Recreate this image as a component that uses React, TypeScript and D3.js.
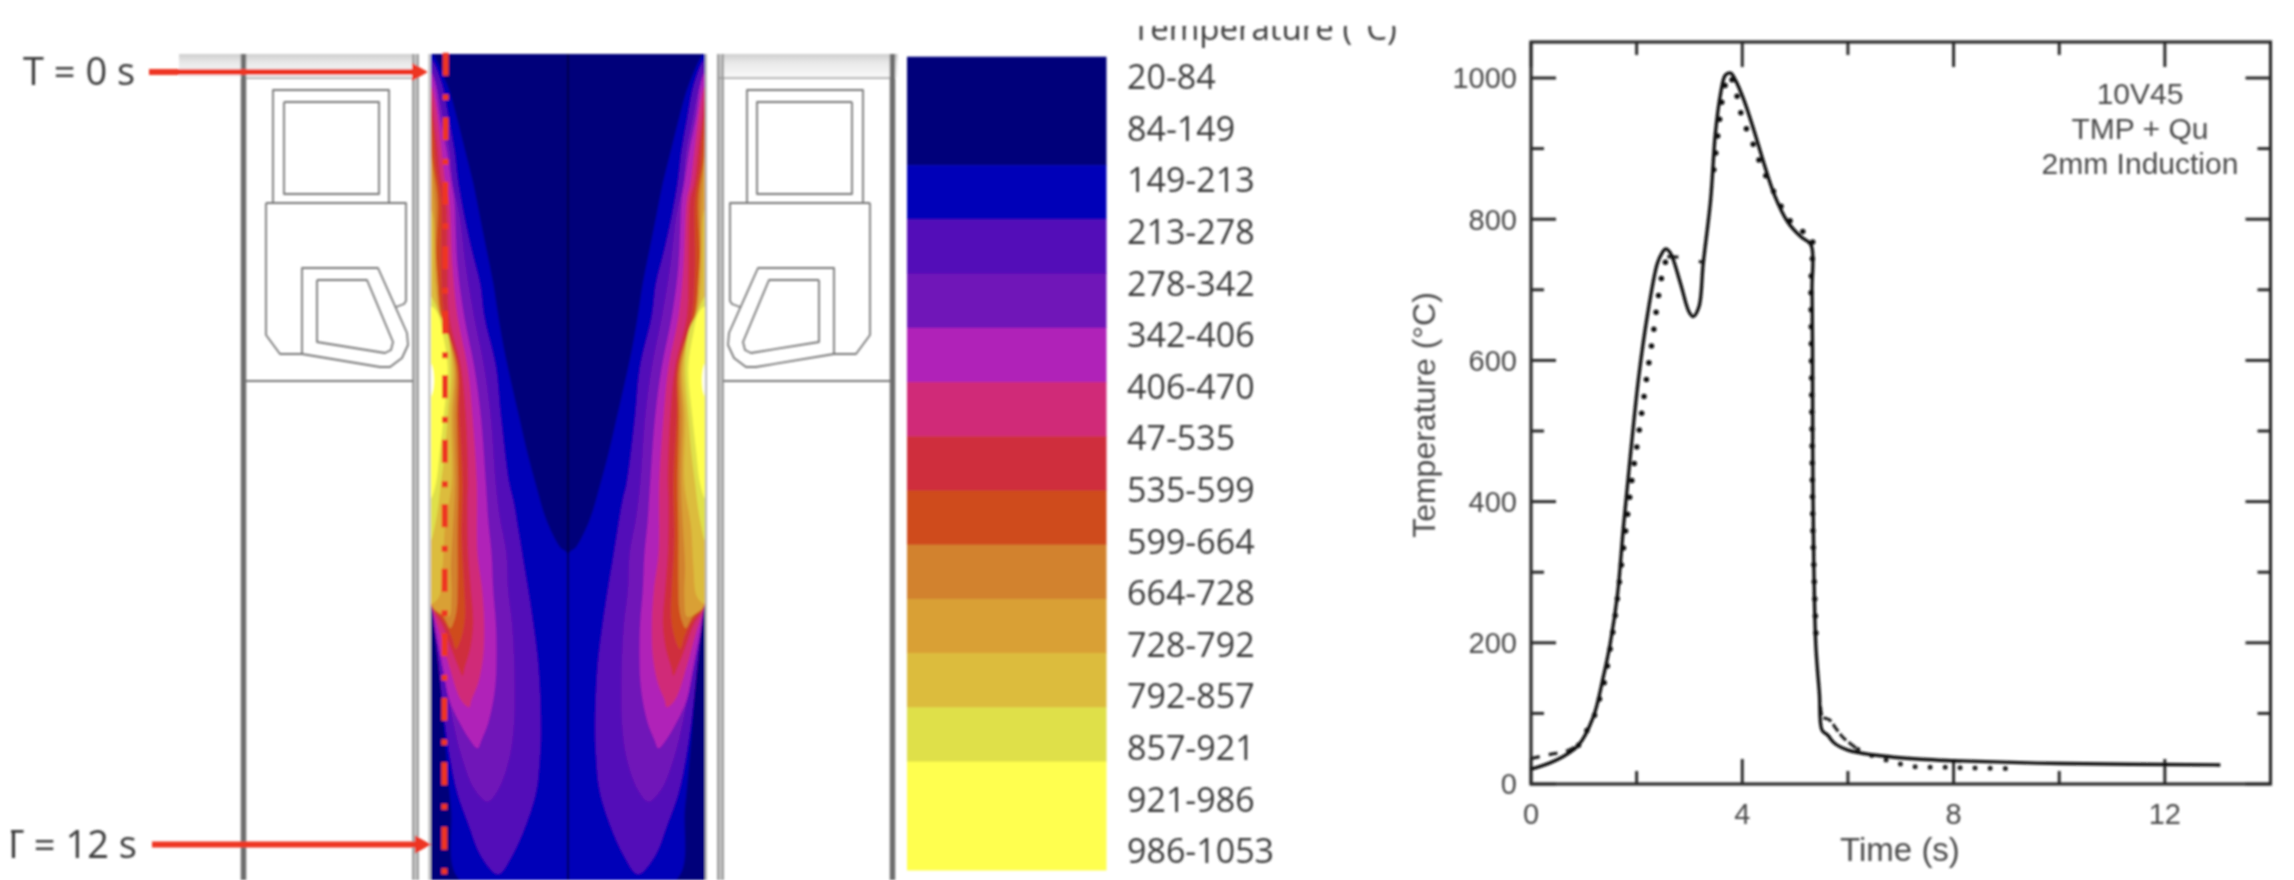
import React from "react";
import * as d3 from "d3";

// ---- thermal history plot ----
const solidT: [number, number][] = [[0,21],[0.36,30],[0.61,39],[0.9,55],[1.18,95],[1.37,152],[1.5,199],[1.64,270],[1.75,364],[1.88,464],[2.04,577],[2.2,662],[2.39,737],[2.48,752],[2.55,758],[2.64,752],[2.83,709],[2.99,669],[3.07,662],[3.18,676],[3.26,737],[3.4,827],[3.49,921],[3.59,978],[3.68,1004],[3.78,1007],[3.87,997],[4.03,969],[4.22,926],[4.41,879],[4.6,836],[4.86,796],[5.11,775],[5.3,764],[5.32,700],[5.33,615],[5.34,400],[5.39,200],[5.46,128],[5.51,76],[5.62,69],[5.74,58],[6,48],[6.5,41],[7.39,35],[8.02,33],[10.05,29],[13.05,27]];
const dashStart: [number, number][] = [[0,36],[0.36,42],[0.65,46],[0.9,55]];
const dotRise: [number, number][] = [[0.9,55],[1.2,97],[1.31,124],[1.39,145],[1.5,192],[1.6,242],[1.68,291],[1.8,364],[1.92,436],[2.02,486],[2.11,533],[2.2,581],[2.3,630],[2.39,680],[2.44,703],[2.5,728],[2.58,747]];
const dashPlateau: [number, number][] = [[2.58,747],[2.82,746],[3.05,743],[3.28,738]];
const dotPeak: [number, number][] = [[3.46,870],[3.49,889],[3.53,915],[3.57,941],[3.62,969],[3.75,1004],[3.92,969],[4,943],[4.12,921],[4.25,898],[4.35,877],[4.63,834],[4.79,811],[4.97,792],[5.13,783],[5.29,780],[5.3,700],[5.32,500],[5.34,350],[5.4,200]];
const dashDrop: [number, number][] = [[5.48,110],[5.52,95],[5.65,91],[5.77,79],[5.92,65],[6.19,49]];
const dotTail: [number, number][] = [[6.19,49],[6.53,38],[6.78,33],[7.01,28],[7.26,24.5],[7.55,23.6],[7.87,23.6],[8.13,23],[9.07,22]];
const xTicks = [0, 2, 4, 6, 8, 10, 12, 14];
const xLabels = [0, 4, 8, 12];
const yTicks = [0, 100, 200, 300, 400, 500, 600, 700, 800, 900, 1000];
const yLabels = [0, 200, 400, 600, 800, 1000];
const annotation = ["10V45", "TMP + Qu", "2mm Induction"];

// ---- colour legend ----
const legendTitle = "Temperature (°C)";
const legendLabels = ["20-84","84-149","149-213","213-278","278-342","342-406","406-470","47-535","535-599","599-664","664-728","728-792","792-857","857-921","921-986","986-1053"];
const levelColors = ["#00007a","#0000b8","#5208b8","#7012b8","#b020b8","#d02c78","#cf2d3c","#cf4c1e","#d2822e","#d9a035","#dcbc3c","#dfe048","#ffff50"];
const levelRows = [2,1,1,1,1,1,1,1,1,1,1,1,2];

// ---- temperature field outlines: [radial position, depth] per level ----
const level2: [number, number][] = [[18,12],[65,100],[95,200],[120,300],[145,400],[165,500],[185,600],[205,700],[222,810],[240,910],[262,1010],[285,1110],[308,1210],[335,1310],[365,1410],[405,1490],[430,1515],[430,2490],[105,2490],[78,2270],[58,2050],[40,1820],[22,1680],[18,1660]];
const level3: [number, number][] = [[18,30],[50,100],[70,200],[88,300],[100,400],[118,500],[140,600],[165,700],[178,800],[213,950],[228,1100],[253,1300],[265,1350],[282,1450],[295,1530],[310,1620],[325,1720],[338,1820],[345,1920],[348,2050],[345,2120],[335,2220],[305,2320],[260,2420],[220,2472],[170,2420],[130,2320],[98,2230],[75,2120],[60,2020],[38,1820],[22,1680],[18,1660]];
const level4: [number, number][] = [[18,50],[35,100],[55,200],[75,300],[85,400],[105,500],[123,650],[148,800],[178,950],[198,1100],[213,1300],[225,1400],[245,1510],[250,1620],[262,1720],[268,1820],[270,1920],[268,2020],[255,2120],[220,2220],[188,2255],[150,2220],[110,2120],[85,2020],[65,1920],[45,1820],[22,1680],[18,1660]];
const level5: [number, number][] = [[18,70],[30,100],[45,200],[65,300],[80,400],[88,450],[98,650],[118,800],[148,950],[168,1100],[183,1300],[190,1410],[200,1510],[205,1620],[213,1720],[215,1820],[210,1920],[190,2020],[170,2070],[158,2095],[135,2070],[105,2020],[73,1950],[53,1850],[33,1750],[22,1680],[18,1660]];
const level6: [number, number][] = [[18,110],[30,150],[50,300],[62,400],[73,450],[83,650],[98,800],[128,950],[143,1100],[156,1300],[158,1510],[172,1620],[178,1720],[175,1820],[160,1900],[140,1950],[133,1972],[108,1950],[73,1850],[45,1750],[22,1680],[18,1660]];
const level7: [number, number][] = [[18,150],[25,200],[38,300],[50,400],[63,450],[68,650],[73,800],[108,950],[123,1100],[130,1300],[128,1350],[130,1510],[138,1620],[145,1720],[135,1800],[120,1850],[113,1877],[100,1850],[80,1800],[50,1720],[25,1680],[18,1660]];
const level8: [number, number][] = [[18,200],[25,250],[32,350],[48,450],[48,650],[58,800],[100,950],[103,1100],[113,1300],[110,1450],[112,1510],[118,1620],[120,1700],[110,1760],[93,1797],[80,1760],[55,1710],[25,1680],[18,1660]];
const level9: [number, number][] = [[18,250],[22,330],[38,450],[33,650],[50,800],[62,830],[96,950],[96,1100],[100,1300],[98,1450],[98,1600],[95,1680],[85,1720],[76,1735],[55,1700],[25,1675],[18,1660]];
const level10: [number, number][] = [[18,320],[28,450],[32,600],[38,700],[46,790],[62,830],[90,950],[86,1100],[90,1300],[83,1450],[78,1550],[80,1640],[72,1700],[45,1690],[18,1660]];
const level11: [number, number][] = [[18,480],[24,500],[30,700],[42,790],[56,820],[86,950],[78,1100],[80,1300],[60,1430],[53,1550],[42,1640],[18,1660]];
const level12: [number, number][] = [[18,740],[30,760],[46,800],[66,840],[78,950],[68,1100],[60,1200],[48,1300],[35,1400],[18,1470]];
const level13: [number, number][] = [[18,770],[38,790],[53,850],[68,950],[56,1100],[45,1200],[33,1300],[18,1345]];
const fieldLevels = [level2, level3, level4, level5, level6, level7, level8, level9, level10, level11, level12, level13];
const wallNotch: [number, number][] = [[12,930],[24,960],[24,1020],[12,1050]];
const scanLine: [number, number][] = [[-0.3, 0], [10.5, 1], [12.7, 1]];

// ---- tooling schematic, drawn on the left and mirrored on the right ----
const outerBox: [number, number][] = [[273,203],[273,90],[389,90],[389,203]];
const innerBox: [number, number][] = [[284,102],[379,102],[379,194],[284,194],[284,102]];
const body: [number, number][] = [[266,203],[406,203],[406,301],[404,304],[396,307]];
const bodyLow: [number, number][] = [[302,354],[280,354],[266,335],[266,203]];
const coilOuter: [number, number][] = [[302,354],[302,268],[378,268],[407,333],[408,345],[402,358],[390,367],[380,367],[302,354]];
const coilInner: [number, number][] = [[317,280],[367,280],[393,342],[391,350],[385,353],[317,342],[317,280]];
const rule: [number, number][] = [[246,381],[413,381]];

const axisX = d3.scaleLinear([0, 14], [1531, 2270.5]);
const axisY = d3.scaleLinear([0, 1051], [784, 42]);
const curve = d3.line<[number, number]>((d) => axisX(d[0]), (d) => axisY(d[1])).curve(d3.curveCatmullRom.alpha(0.5));

const radial = d3.scaleLinear([18, 430], [431, 568]);
const depth = d3.scaleLinear([0, 2490], [50, 880]);
const mirror = (x: number) => 1136 - x;
const fieldLeft = d3.line<[number, number]>((d) => radial(d[0]), (d) => depth(d[1])).curve(d3.curveCatmullRomClosed.alpha(0.5));
const fieldRight = d3.line<[number, number]>((d) => mirror(radial(d[0])), (d) => depth(d[1])).curve(d3.curveCatmullRomClosed.alpha(0.5));
const shapeLeft = d3.line<[number, number]>((d) => d[0], (d) => d[1]);
const shapeRight = d3.line<[number, number]>((d) => mirror(d[0]), (d) => d[1]);
const scanTime = d3.scaleLinear([0, 12], [72, 844.5]);
const scanX = d3.scaleLinear([0, 1], [445.7, 444.3]);
const scanPath = d3.line<[number, number]>((d) => scanX(d[1]), (d) => scanTime(d[0]));

const legendRow = d3.scaleLinear([0, 15], [56.7, 870]);
const legendLabelY = d3.scaleLinear([0, 15], [77, 851]);

const tickColor = "#2c2c2c";
const labelColor = "#3a3a3a";
const plotFont = "'Liberation Sans', Arial, sans-serif";
const sketchFont = "'Open Sans', sans-serif";

function Schematic({ line }: { line: d3.Line<[number, number]> }) {
  return (
    <g fill="none" stroke="#777" strokeWidth={1.8} strokeLinejoin="round">
      {[outerBox, innerBox, body, bodyLow, coilOuter, coilInner, rule].map((s, i) => (
        <path key={i} d={line(s) ?? ""} />
      ))}
    </g>
  );
}

function Walls({ line }: { line: d3.Line<[number, number]> }) {
  return (
    <g fill="none">
      <path d={line([[243.5, 54], [243.5, 880]]) ?? ""} stroke="#6e6e6e" strokeWidth={5.5} />
      <path d={line([[415.5, 54], [415.5, 880]]) ?? ""} stroke="#a0a0a0" strokeWidth={7} />
      <path d={line([[415.5, 54], [415.5, 880]]) ?? ""} stroke="#d8d8d8" strokeWidth={1.5} />
      <path d={line([[246, 78], [418, 78]]) ?? ""} stroke="#999" strokeWidth={1.6} />
    </g>
  );
}

function Arrow({ x0, x1, y }: { x0: number; x1: number; y: number }) {
  const tri = d3.line()([[x1, y], [x1 - 16, y - 9], [x1 - 16, y + 9]]) + "Z";
  return (
    <g>
      <line x1={x0} x2={x1 - 10} y1={y} y2={y} stroke="#ee3524" strokeWidth={6} />
      <path d={tri} fill="#ee3524" />
    </g>
  );
}

export default function App() {
  let row = 0;
  const bands = levelColors.map((c, i) => {
    const y0 = legendRow(row);
    row += levelRows[i];
    return { c, y0, y1: legendRow(row) };
  });
  return (
    <svg width={2294} height={880} viewBox="0 0 2294 880" style={{ position: "absolute", left: 0, top: 0, background: "#fff" }}>
      <defs>
        <filter id="soft" filterUnits="userSpaceOnUse" x={0} y={0} width={2294} height={880}>
          <feGaussianBlur stdDeviation={0.85} />
        </filter>
        <linearGradient id="band" x1={0} x2={0} y1={0} y2={1}>
          <stop offset="0" stopColor="#cfcfcf" />
          <stop offset="0.35" stopColor="#e8e8e8" />
          <stop offset="1" stopColor="#fafafa" />
        </linearGradient>
        <clipPath id="field"><rect x={431} y={54} width={274} height={826} /></clipPath>
        <clipPath id="titleClip"><rect x={1100} y={26} width={320} height={40} /></clipPath>
        <clipPath id="leftClip"><rect x={11} y={780} width={200} height={100} /></clipPath>
      </defs>
      <g filter="url(#soft)">
        {/* top band */}
        <rect x={179} y={54} width={240} height={24} fill="url(#band)" />
        <rect x={720} y={54} width={178} height={24} fill="url(#band)" />
        <Walls line={shapeLeft} />
        <Walls line={shapeRight} />
        <Schematic line={shapeLeft} />
        <Schematic line={shapeRight} />

        {/* temperature field */}
        <line x1={429.5} x2={429.5} y1={54} y2={880} stroke="#b5b5b5" strokeWidth={2} />
        <line x1={706} x2={706} y1={54} y2={880} stroke="#b5b5b5" strokeWidth={2} />
        <g clipPath="url(#field)">
          <rect x={431} y={54} width={274} height={826} fill={levelColors[0]} />
          {fieldLevels.map((pts, i) => (
            <g key={i} fill={levelColors[i + 1]}>
              <path d={fieldLeft(pts) ?? ""} />
              <path d={fieldRight(pts) ?? ""} />
            </g>
          ))}
          <g fill="#fff">
            <path d={fieldLeft(wallNotch) ?? ""} />
            <path d={fieldRight(wallNotch) ?? ""} />
          </g>
          <rect x={567.2} y={54} width={1.6} height={826} fill="#000038" />
        </g>
        <path d={scanPath(scanLine) ?? ""} fill="none" stroke="#ee3524" strokeWidth={6} strokeDasharray="23 18.5 6 17" />
        <Arrow x0={149} x1={428} y={72} />
        <Arrow x0={152} x1={431} y={844.5} />
        <text x={23} y={85} fontFamily={sketchFont} fontSize={38} fill={labelColor}>T = 0 s</text>
        <g clipPath="url(#leftClip)">
          <text x={3} y={858} fontFamily={sketchFont} fontSize={38} fill={labelColor}>T = 12 s</text>
        </g>

        {/* legend */}
        {bands.map((b, i) => (
          <rect key={i} x={907} width={199.5} y={b.y0} height={b.y1 - b.y0 + 0.5} fill={b.c} />
        ))}
        {legendLabels.map((l, i) => (
          <text key={l} x={1127} y={legendLabelY(i)} dy="0.36em" fontFamily={sketchFont} fontSize={34} fill={labelColor}>{l}</text>
        ))}
        <g clipPath="url(#titleClip)">
          <text x={1132} y={39.5} fontFamily={sketchFont} fontSize={33} fill={labelColor}>{legendTitle}</text>
        </g>

        {/* plot */}
        <rect x={axisX(0)} y={axisY(1051)} width={axisX(14) - axisX(0)} height={axisY(0) - axisY(1051)} fill="none" stroke={tickColor} strokeWidth={3.2} />
        {xTicks.map((t, i) => {
          const len = i % 2 === 0 ? 25 : 13;
          return (
            <g key={t} stroke={tickColor} strokeWidth={3}>
              <line x1={axisX(t)} x2={axisX(t)} y1={axisY(0)} y2={axisY(0) - len} />
              <line x1={axisX(t)} x2={axisX(t)} y1={axisY(1051)} y2={axisY(1051) + len} />
            </g>
          );
        })}
        {yTicks.map((t, i) => {
          const len = i % 2 === 0 ? 25 : 13;
          return (
            <g key={t} stroke={tickColor} strokeWidth={3}>
              <line y1={axisY(t)} y2={axisY(t)} x1={axisX(0)} x2={axisX(0) + len} />
              <line y1={axisY(t)} y2={axisY(t)} x1={axisX(14)} x2={axisX(14) - len} />
            </g>
          );
        })}
        <g fontFamily={plotFont} fontSize={29} fill="#4a4a4a">
          {xLabels.map((t) => (
            <text key={t} x={axisX(t)} y={824} textAnchor="middle">{t}</text>
          ))}
          {yLabels.map((t) => (
            <text key={t} x={1517} y={axisY(t)} dy="0.36em" textAnchor="end">{t}</text>
          ))}
          <text x={1900} y={861} textAnchor="middle" fontSize={33}>Time (s)</text>
          <text transform="translate(1435,415) rotate(-90)" textAnchor="middle" fontSize={32}>Temperature (°C)</text>
          {annotation.map((a, i) => (
            <text key={a} x={2140} y={104 + i * 35} textAnchor="middle" fontSize={30}>{a}</text>
          ))}
        </g>
        <path d={curve(dotRise) ?? ""} fill="none" stroke="#111" strokeWidth={5.5} strokeLinecap="round" strokeDasharray="0 17" />
        <path d={curve(dotPeak) ?? ""} fill="none" stroke="#111" strokeWidth={5.5} strokeLinecap="round" strokeDasharray="0 17" />
        <path d={curve(dotTail) ?? ""} fill="none" stroke="#222" strokeWidth={5} strokeLinecap="round" strokeDasharray="0 15" />
        <path d={curve(dashStart) ?? ""} fill="none" stroke="#222" strokeWidth={3.2} strokeDasharray="9 9" />
        <path d={curve(dashPlateau) ?? ""} fill="none" stroke="#222" strokeWidth={3.2} strokeDasharray="11 21" />
        <path d={curve(dashDrop) ?? ""} fill="none" stroke="#222" strokeWidth={3.2} strokeDasharray="9 3" />
        <path d={curve(solidT) ?? ""} fill="none" stroke="#111" strokeWidth={3.4} strokeLinejoin="round" />
      </g>
    </svg>
  );
}
